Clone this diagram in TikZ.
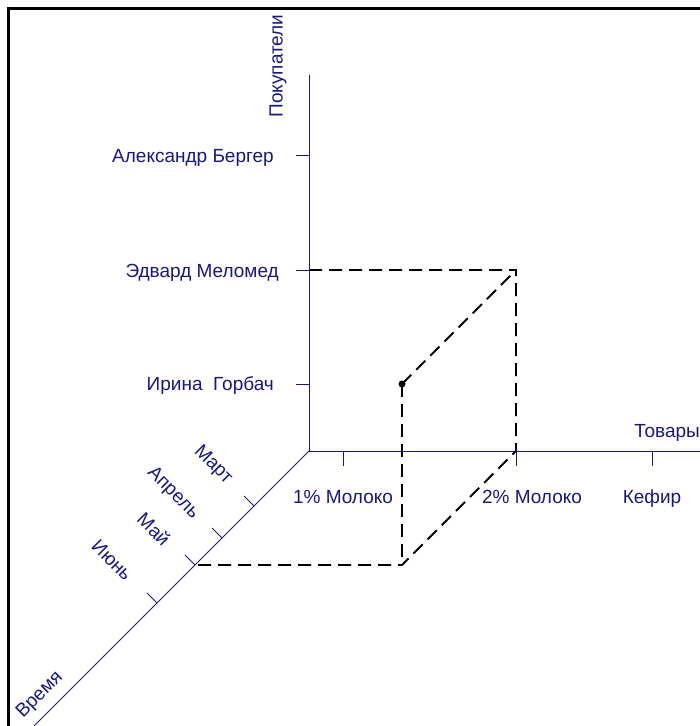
\documentclass[tikz,border=0pt]{standalone}
\usepackage{fontspec}
\setmainfont{Liberation Sans}
\usetikzlibrary{positioning}
\definecolor{axisblue}{RGB}{24,24,128}
\tikzset
{
  axisline/.style = {draw=axisblue, line width=0.8pt},
  tickmark/.style = {draw=axisblue, line width=0.8pt},
  guide/.style    = {draw=black, line width=1.8pt, dash pattern=on 13pt off 7pt},
  lbl/.style      = {text=axisblue, font=\fontsize{19}{22}\selectfont, inner sep=0pt}
}

\begin{document}
\begin{tikzpicture}[x=1pt,y=-1pt]
            \useasboundingbox (0,0) rectangle (700,726);
            % frame
            \draw[line width=3.2pt] (8.5,726) -- (8.5,8.5) -- (700,8.5);
            % axes
            \coordinate (O) at (309,451);
            \coordinate (ytop) at (309,75);
            \coordinate (xend) at (700,451);
            \coordinate (zend) at (34,726);
            \draw[axisline] (O) -- (ytop);
            \draw[axisline] (O) -- (xend);
            \draw[axisline] (O) -- (zend);
            % ticks on the customer axis
            \foreach \yy/\nm in {155/c1,270/c2,384/c3}
              \draw[tickmark] (296,\yy) -- (309,\yy) coordinate (\nm);
            % ticks on the goods axis
            \foreach \xx/\nm in {343/g1,516/g2,652/g3}
              \draw[tickmark] (\xx,451) coordinate (\nm) -- (\xx,466);
            % ticks on the time axis
            \foreach \dd/\nm in {55/m1,87/m2,114/m3,152/m4}
              \draw[tickmark] (309-\dd,451+\dd) coordinate (\nm) -- ++(-10,-10);
            % labels
            \node[lbl, rotate=90] (buyers) at (278,66) {Покупатели};
            \node[lbl, anchor=base east] (c1l) at (274,162) {Александр Бергер};
            \node[lbl, anchor=base east] (c2l) at (279,277) {Эдвард Меломед};
            \node[lbl, anchor=base east] (c3l) at (274,390) {Ирина\ \ Горбач};
            \node[lbl, anchor=base east] (goods) at (700,437) {Товары};
            \node[lbl, anchor=base] (g1l) at (343,503) {1\% Молоко};
            \node[lbl, anchor=base] (g2l) at (532,503) {2\% Молоко};
            \node[lbl, anchor=base] (g3l) at (652,503) {Кефир};
            \node[lbl, rotate=-45] (m1l) at (213,465) {Март};
            \node[lbl, rotate=-45] (m2l) at (173,493) {Апрель};
            \node[lbl, rotate=-45] (m3l) at (154,529) {Май};
            \node[lbl, rotate=-45] (m4l) at (112,560) {Июнь};
            \node[lbl, rotate=45] (time) at (40,695) {Время};
            % the fact cube
            \coordinate (P) at (402,384);
            \coordinate (R) at (516,270);
            \coordinate (Q) at (402,565);
            \draw[guide] (c2) -- (R) -- (g2) -- (Q) -- (m3);
            \draw[guide] (P) -- (R);
            \draw[guide] (P) -- (Q);
            \fill (P) circle (3.5pt);
\end{tikzpicture}
\end{document}
